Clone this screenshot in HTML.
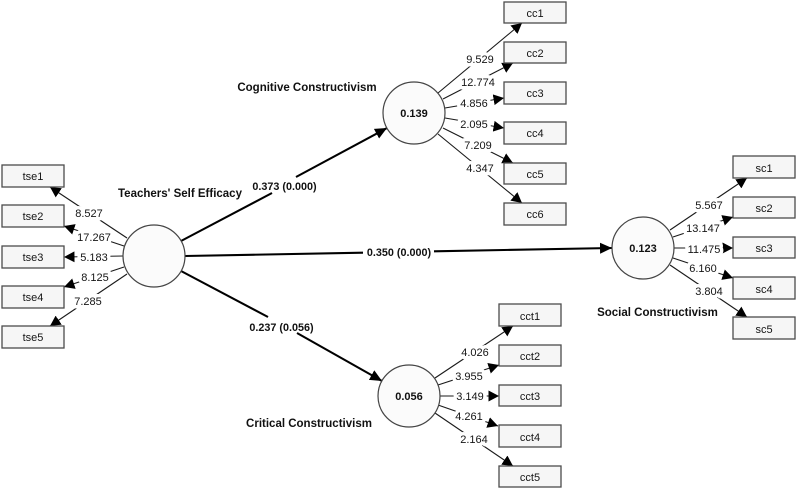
<!DOCTYPE html>
<html><head><meta charset="utf-8">
<style>
html,body{margin:0;padding:0;background:#fff;width:796px;height:488px;overflow:hidden}
svg{display:block;filter:blur(.35px)}
text{font-family:"Liberation Sans",sans-serif;fill:#151515;text-anchor:middle}
.n text{font-size:11px;stroke:#fff;stroke-width:7;stroke-linejoin:round;paint-order:stroke}
.b text{font-size:10.8px;font-weight:bold;fill:#111}
.h text{font-size:11.5px;font-weight:bold;fill:#111}
.box rect{fill:#f6f6f6;stroke:#4c4c4c;stroke-width:1.3}
.box text{font-size:11px}
.l line{stroke:#1a1a1a;stroke-width:1.1}
.p line{stroke:#000;stroke-width:2.1}
circle{fill:#fbfbfb;stroke:#444;stroke-width:1.2}
</style></head>
<body>
<svg width="796" height="488" viewBox="0 0 796 488" xmlns="http://www.w3.org/2000/svg">
<defs>
<marker id="a" markerUnits="userSpaceOnUse" markerWidth="12" markerHeight="12" refX="10.5" refY="6" orient="auto"><path d="M0 .5L10.5 6L0 11.5z" fill="#000"/></marker>
<marker id="c" markerUnits="userSpaceOnUse" markerWidth="13" markerHeight="12" refX="12" refY="6" orient="auto"><path d="M0 .5L12 6L0 11.5z" fill="#000"/></marker>
</defs>

<g class="l">
<line x1="127" y1="238" x2="50" y2="187" marker-end="url(#a)"/>
<line x1="124" y1="246" x2="64" y2="226" marker-end="url(#a)"/>
<line x1="123" y1="256" x2="64" y2="257" marker-end="url(#a)"/>
<line x1="124" y1="267" x2="64" y2="287" marker-end="url(#a)"/>
<line x1="127" y1="274" x2="50" y2="326" marker-end="url(#a)"/>

<line x1="438" y1="93" x2="522" y2="23" marker-end="url(#a)"/>
<line x1="443" y1="99" x2="513" y2="63" marker-end="url(#a)"/>
<line x1="445" y1="108" x2="504" y2="98" marker-end="url(#a)"/>
<line x1="445" y1="118" x2="504" y2="128" marker-end="url(#a)"/>
<line x1="443" y1="128" x2="513" y2="163" marker-end="url(#a)"/>
<line x1="438" y1="134" x2="522" y2="203" marker-end="url(#a)"/>

<line x1="670" y1="230" x2="747" y2="178" marker-end="url(#a)"/>
<line x1="673" y1="237" x2="733" y2="217" marker-end="url(#a)"/>
<line x1="674" y1="248" x2="733" y2="248" marker-end="url(#a)"/>
<line x1="673" y1="258" x2="733" y2="278" marker-end="url(#a)"/>
<line x1="670" y1="265" x2="747" y2="317" marker-end="url(#a)"/>

<line x1="435" y1="378" x2="513" y2="326" marker-end="url(#a)"/>
<line x1="438" y1="385" x2="499" y2="365" marker-end="url(#a)"/>
<line x1="440" y1="396" x2="499" y2="396" marker-end="url(#a)"/>
<line x1="438" y1="405" x2="498" y2="426" marker-end="url(#a)"/>
<line x1="435" y1="413" x2="513" y2="466" marker-end="url(#a)"/>
</g>

<g class="p">
<line x1="181" y1="241" x2="272" y2="193"/>
<line x1="296" y1="177" x2="387" y2="128" marker-end="url(#c)"/>
<line x1="185" y1="256" x2="363" y2="252.7"/>
<line x1="434" y1="251.3" x2="612" y2="248" marker-end="url(#c)"/>
<line x1="181" y1="271" x2="268" y2="317"/>
<line x1="297" y1="333" x2="382" y2="381" marker-end="url(#c)"/>
</g>

<circle cx="154" cy="256" r="31"/>
<circle cx="414" cy="113" r="31"/>
<circle cx="643" cy="248" r="31"/>
<circle cx="409" cy="396" r="31"/>

<g class="box">
<rect x="2" y="165" width="62" height="22"/><text x="33" y="180">tse1</text>
<rect x="2" y="205" width="62" height="22"/><text x="33" y="220">tse2</text>
<rect x="2" y="246" width="62" height="22"/><text x="33" y="261">tse3</text>
<rect x="2" y="286" width="62" height="22"/><text x="33" y="301">tse4</text>
<rect x="2" y="326" width="62" height="22"/><text x="33" y="341">tse5</text>

<rect x="504" y="2" width="62" height="21"/><text x="535" y="17">cc1</text>
<rect x="504" y="42" width="62" height="21"/><text x="535" y="57">cc2</text>
<rect x="504" y="82" width="62" height="22"/><text x="535" y="97">cc3</text>
<rect x="504" y="122" width="62" height="22"/><text x="535" y="137">cc4</text>
<rect x="504" y="163" width="62" height="21"/><text x="535" y="178">cc5</text>
<rect x="504" y="203" width="62" height="22"/><text x="535" y="218">cc6</text>

<rect x="733" y="156" width="62" height="22"/><text x="764" y="172">sc1</text>
<rect x="733" y="197" width="62" height="21"/><text x="764" y="212">sc2</text>
<rect x="733" y="237" width="62" height="21"/><text x="764" y="252">sc3</text>
<rect x="733" y="277" width="62" height="22"/><text x="764" y="293">sc4</text>
<rect x="733" y="317" width="62" height="22"/><text x="764" y="333">sc5</text>

<rect x="499" y="304" width="62" height="22"/><text x="530" y="320">cct1</text>
<rect x="499" y="345" width="62" height="21"/><text x="530" y="360">cct2</text>
<rect x="499" y="385" width="62" height="21"/><text x="530" y="400">cct3</text>
<rect x="499" y="425" width="62" height="22"/><text x="530" y="441">cct4</text>
<rect x="499" y="466" width="62" height="21"/><text x="530" y="481">cct5</text>
</g>

<g class="n">
<text x="89" y="217">8.527</text>
<text x="94" y="241">17.267</text>
<text x="94" y="261">5.183</text>
<text x="95" y="281">8.125</text>
<text x="88" y="305">7.285</text>

<text x="480" y="63">9.529</text>
<text x="478" y="86">12.774</text>
<text x="474" y="107">4.856</text>
<text x="474" y="128">2.095</text>
<text x="478" y="149">7.209</text>
<text x="480" y="172">4.347</text>

<text x="709" y="209">5.567</text>
<text x="703" y="232">13.147</text>
<text x="704" y="253">11.475</text>
<text x="703" y="272">6.160</text>
<text x="709" y="295">3.804</text>

<text x="475" y="356">4.026</text>
<text x="469" y="380">3.955</text>
<text x="470" y="400">3.149</text>
<text x="469" y="420">4.261</text>
<text x="474" y="443">2.164</text>
</g>

<g class="b">
<text x="284.5" y="190">0.373 (0.000)</text>
<text x="399" y="256">0.350 (0.000)</text>
<text x="281.5" y="331">0.237 (0.056)</text>
</g>

<g class="h">
<text x="414" y="117" style="font-size:11px">0.139</text>
<text x="643" y="252" style="font-size:11px">0.123</text>
<text x="409" y="400" style="font-size:11px">0.056</text>
<text x="180" y="197">Teachers' Self Efficacy</text>
<text x="307" y="91">Cognitive Constructivism</text>
<text x="309" y="427">Critical Constructivism</text>
<text x="657.5" y="316">Social Constructivism</text>
</g>
</svg>
</body></html>
